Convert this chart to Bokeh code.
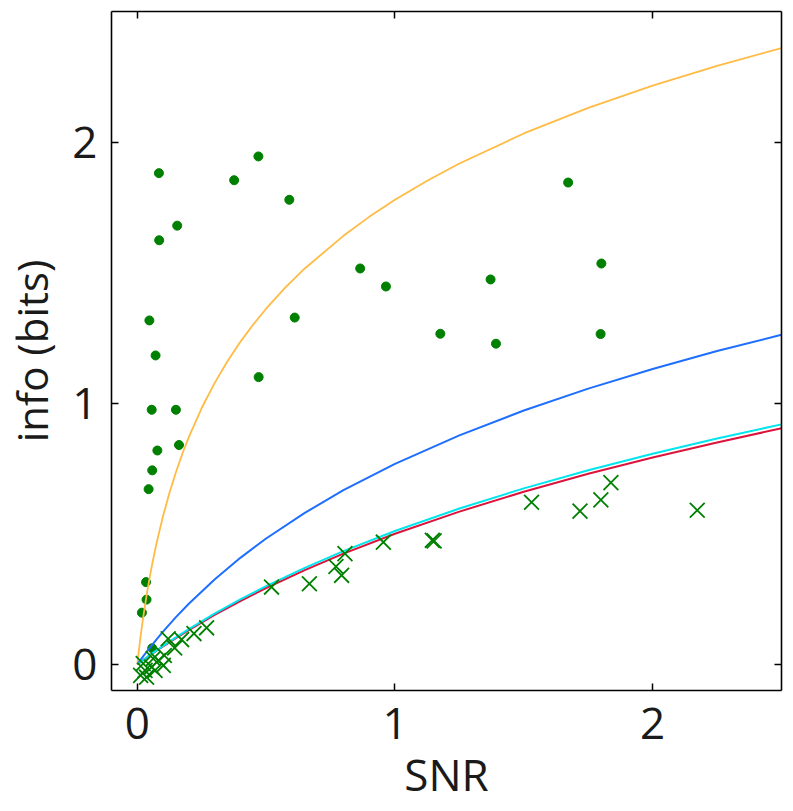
from bokeh.plotting import figure
from bokeh.models import Range1d, LinearAxis, FixedTicker
from bokeh.embed import file_html
from bokeh.resources import INLINE

# ---- data ----
dot_x = [0.084, 0.470, 0.376, 0.590, 0.155, 0.085, 0.865, 0.965, 0.047, 0.611, 0.071, 0.471,
         1.672, 1.801, 1.371, 1.176, 1.392, 1.798,
         0.056, 0.150, 0.162, 0.078, 0.058, 0.044,
         0.034, 0.036, 0.018, 0.058]
dot_y = [1.881, 1.945, 1.854, 1.779, 1.680, 1.624, 1.516, 1.447, 1.317, 1.328, 1.183, 1.100,
         1.845, 1.535, 1.474, 1.266, 1.228, 1.265,
         0.975, 0.975, 0.840, 0.819, 0.743, 0.671,
         0.315, 0.248, 0.198, 0.062]

cross_x = [0.521, 0.668, 0.806, 0.771, 0.793, 0.955, 1.145, 1.152, 1.530, 1.718, 1.799, 1.838, 2.173,
           0.269, 0.220, 0.172, 0.120, 0.145, 0.105, 0.082, 0.056, 0.030, 0.013, 0.036, 0.069,
           0.101, 0.023, 0.062]
cross_y = [0.296, 0.309, 0.424, 0.375, 0.341, 0.468, 0.475, 0.473, 0.621, 0.587, 0.630, 0.696, 0.590,
           0.140, 0.118, 0.095, 0.098, 0.063, 0.034, 0.015, -0.010, -0.023, -0.042, -0.049, -0.023,
           -0.004, 0.003, 0.022]

orange_x = [0, 0.0025, 0.005, 0.01, 0.015, 0.02, 0.025, 0.035, 0.04, 0.05, 0.06, 0.075, 0.1,
            0.125, 0.15, 0.175, 0.2, 0.25, 0.3, 0.35, 0.4, 0.45, 0.5, 0.575, 0.65, 0.8, 0.9,
            1.0, 1.125, 1.25, 1.5, 1.75, 2.0, 2.25, 2.5]
orange_y = [0, 0.0221, 0.0435, 0.084, 0.1226, 0.159, 0.1934, 0.257, 0.2872, 0.343, 0.3946,
            0.465, 0.568, 0.6575, 0.736, 0.8065, 0.870, 0.9816, 1.077, 1.1605, 1.235, 1.3013,
            1.362, 1.4436, 1.516, 1.641, 1.7136, 1.779, 1.8518, 1.918, 2.033, 2.131, 2.216,
            2.292, 2.360]

curve_x = [0, 0.005, 0.01, 0.02, 0.035, 0.05, 0.075, 0.1, 0.15, 0.2, 0.3, 0.4, 0.5, 0.65,
           0.8, 1.0, 1.25, 1.5, 1.75, 2.0, 2.25, 2.5]
blue_y = [0, 0.0068, 0.0136, 0.0269, 0.0465, 0.0655, 0.0961, 0.1255, 0.181, 0.232, 0.325, 0.408,
          0.482, 0.580, 0.667, 0.768, 0.877, 0.972, 1.056, 1.131, 1.200, 1.262]
red_y = [0, 0.0036, 0.0072, 0.0143, 0.0248, 0.0352, 0.0522, 0.0688, 0.1008, 0.1315, 0.1893,
         0.2427, 0.2925, 0.3612, 0.4240, 0.500, 0.585, 0.661, 0.730, 0.7925, 0.850, 0.904]
cyan_y = [0, 0.0037, 0.0074, 0.0147, 0.0256, 0.0362, 0.0537, 0.0707, 0.1036, 0.1351, 0.1943,
          0.2489, 0.2997, 0.3697, 0.4336, 0.5107, 0.5969, 0.6739, 0.7434, 0.8068, 0.8651, 0.919]

ticks = [0, 1, 2]
x_label = "SNR"
y_label = "info (bits)"

FONT = "Open Sans"
TXT = "#1a1a1a"

p = figure(frame_width=670, frame_height=679,
           x_range=Range1d(-0.1, 2.5), y_range=Range1d(-0.1, 2.5),
           output_backend="svg", toolbar_location=None,
           min_border_left=100, min_border_top=11, min_border_right=4, min_border_bottom=80)
p.xgrid.visible = False
p.ygrid.visible = False
p.outline_line_color = None
p.background_fill_color = "white"
p.border_fill_color = "white"

def style_axis(ax, labels=True):
    ax.ticker = FixedTicker(ticks=ticks)
    ax.minor_tick_line_color = None
    ax.major_tick_in = 7
    ax.major_tick_out = 0
    ax.major_tick_line_width = 1.5
    ax.major_tick_line_color = "black"
    ax.axis_line_width = 1.6
    ax.axis_line_color = "black"
    if labels:
        ax.major_label_text_font = FONT
        ax.major_label_text_font_size = "44px"
        ax.major_label_text_color = TXT
        ax.axis_label_text_font = FONT
        ax.axis_label_text_font_size = "44px"
        ax.axis_label_text_font_style = "normal"
        ax.axis_label_text_color = TXT
    else:
        ax.major_label_text_font_size = "1px"
        ax.major_label_text_color = None
        ax.major_label_standoff = 0

style_axis(p.xaxis[0])
style_axis(p.yaxis[0])
p.xaxis[0].axis_label = x_label
p.yaxis[0].axis_label = y_label
p.yaxis[0].axis_label_text_font_size = "42px"
p.xaxis[0].major_label_standoff = 17
p.xaxis[0].axis_label_standoff = 2
p.yaxis[0].major_label_standoff = 14
p.yaxis[0].axis_label_standoff = 9

ax_r = LinearAxis()
style_axis(ax_r, labels=False)
p.add_layout(ax_r, "right")
ax_t = LinearAxis()
style_axis(ax_t, labels=False)
p.add_layout(ax_t, "above")

green = "#008000"
p.scatter(dot_x, dot_y, marker="circle", size=9, fill_color=green, line_color=green)

p.line(orange_x, orange_y, line_color="#FFBB44", line_width=1.8)
p.line(curve_x, blue_y, line_color="#1E6EFF", line_width=2.0)
p.line(curve_x, red_y, line_color="#DC143C", line_width=2.0)
p.line(curve_x, cyan_y, line_color="#00E5EE", line_width=2.0)

p.scatter(cross_x, cross_y, marker="x", size=21, line_color=green, line_width=1.8)

open("out.html", "w").write(file_html(p, INLINE))
